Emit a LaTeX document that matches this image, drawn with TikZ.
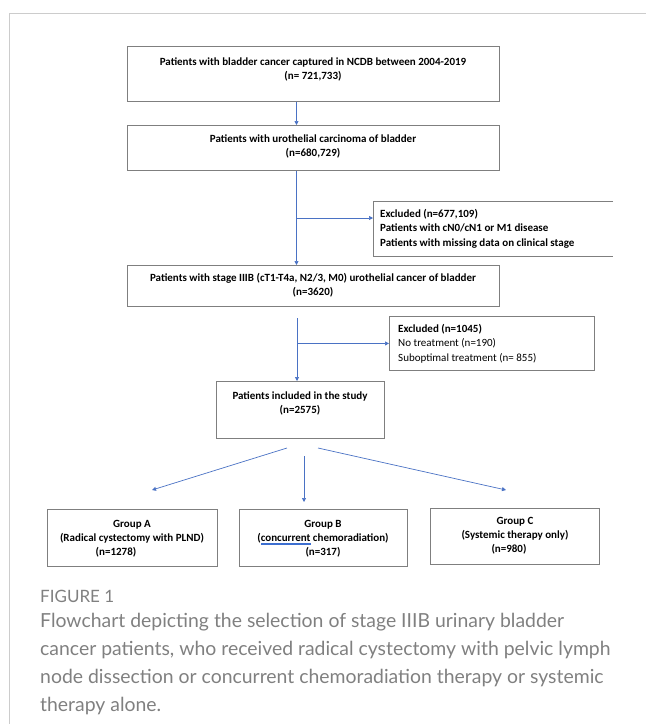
\documentclass[tikz,border=0pt]{standalone}
\usepackage{fontspec}
\newfontfamily\boxfont{Carlito}
\newfontfamily\capfont{Lato}
\usetikzlibrary{arrows.meta}
\definecolor{boxgray}{HTML}{7F7F7F}
\definecolor{arrblue}{HTML}{4A72C4}
\definecolor{framegray}{HTML}{CCCCCC}
\definecolor{capgray}{HTML}{808080}
\definecolor{ulblue}{HTML}{3D6FD0}
\newcommand\dblul[1]{\setbox0\hbox{#1}\rlap{\color{ulblue}\rule[-2.2pt]{\wd0}{0.5pt}}\rlap{\color{ulblue}\rule[-3.6pt]{\wd0}{0.5pt}}\box0\relax}
\begin{document}
\begin{tikzpicture}[x=1pt,y=-1pt,
  box/.style={draw=boxgray, line width=0.9pt, inner sep=0, anchor=north west},
  txt/.style={inner sep=0, align=center, font=\boxfont\bfseries\fontsize{11}{14}\selectfont},
  ltxt/.style={inner sep=0, align=left, anchor=west, font=\boxfont\fontsize{11}{14.5}\selectfont},
  arr/.style={draw=arrblue, line width=0.7pt, -{Triangle[length=4pt,width=4pt]}},
  captxt/.style={inner sep=0, anchor=west, text=capgray}]
\useasboundingbox (0,0) rectangle (646,724);
\draw[framegray, line width=1pt] (9.3,724) -- (9.3,13.3) -- (646,13.3);

% boxes
\node[box, minimum width=372pt, minimum height=55pt] (b1) at (127,46) {};
\node[box, minimum width=372pt, minimum height=45pt] (b2) at (127,125) {};
\node[box, minimum width=372pt, minimum height=41pt] (b3) at (127,265) {};
\node[box, minimum width=205pt, minimum height=54pt] (b4) at (389,316) {};
\node[box, minimum width=168pt, minimum height=57pt] (b5) at (216,381) {};
\node[box, minimum width=170pt, minimum height=57pt] (gA) at (47,509) {};
\node[box, minimum width=168pt, minimum height=57pt] (gB) at (239,509) {};
\node[box, minimum width=169pt, minimum height=56pt] (gC) at (430,508) {};
\draw[boxgray, line width=0.9pt] (613,201) -- (373,201) -- (373,256) -- (613,256);
\coordinate (e1w) at (373,218);

% texts
\node[txt] (t1) at (313,69) {Patients with bladder cancer captured in NCDB between 2004-2019\\(n= 721,733)};
\node[txt] (t2) at (313,146) {Patients with urothelial carcinoma of bladder\\(n=680,729)};
\node[ltxt, font=\boxfont\bfseries\fontsize{11}{14.5}\selectfont] (t3) at (380,228.5) {Excluded (n=677,109)\\Patients with cN0/cN1 or M1 disease\\Patients with missing data on clinical stage};
\node[txt] (t4) at (313,285.5) {Patients with stage IIIB (cT1-T4a, N2/3, M0) urothelial cancer of bladder\\(n=3620)};
\node[ltxt] (t5) at (398,343.5) {{\bfseries Excluded (n=1045)}\\No treatment (n=190)\\Suboptimal treatment (n= 855)};
\node[txt] (t6) at (300,403) {Patients included in the study\\(n=2575)};
\node[txt] (tA) at (132,538.5) {Group A\\(Radical cystectomy with PLND)\\(n=1278)\hspace*{32pt}};
\node[txt] (tB) at (323,538.5) {Group B\\(\dblul{concurrent} chemoradiation)\\(n=317)};
\node[txt] (tC) at (515,535.5) {Group C\\(Systemic therapy only)\\(n=980)\hspace*{12pt}};

% connectors
\coordinate (trunk) at (296.5,0);
\draw[arr] (b1.south -| trunk) -- (b2.north -| trunk);
\draw[arr] (b2.south -| trunk) -- (b3.north -| trunk);
\draw[arr] (e1w -| trunk) -- (e1w);
\coordinate (t2top) at (297,318);
\draw[arr] (t2top) -- (b5.north -| t2top);
\draw[arr] (b4.west -| t2top) -- (b4.west);
\coordinate (dA0) at (287,448);
\coordinate (dA1) at (152,490);
\coordinate (dB0) at (304,456);
\coordinate (dB1) at (304,502);
\coordinate (dC0) at (318,448);
\coordinate (dC1) at (506,490);
\draw[arr] (dA0) -- (dA1);
\draw[arr] (dB0) -- (dB1);
\draw[arr] (dC0) -- (dC1);

% caption
\node[captxt, font=\capfont\fontsize{17}{17}\selectfont] (fig) at (40,596) {FIGURE 1};
\node[captxt, align=left, font=\capfont\fontsize{19.4}{28}\selectfont] (caption) at (40,664) {Flowchart depicting the selection of stage IIIB urinary bladder\\cancer patients, who received radical cystectomy with pelvic lymph\\node dissection or concurrent chemoradiation therapy or systemic\\therapy alone.};
\end{tikzpicture}
\end{document}
